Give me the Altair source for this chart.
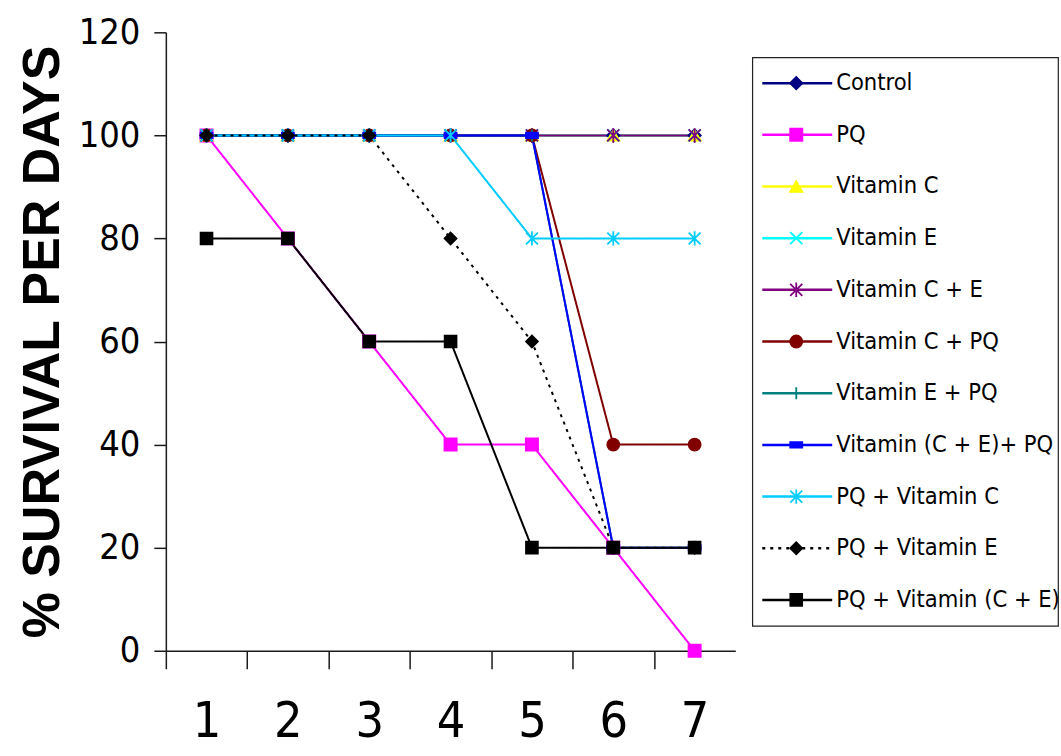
import altair as alt
import pandas as pd

# ---------------- data ----------------
days = [1, 2, 3, 4, 5, 6, 7]
series_names = [
    "Control",
    "PQ",
    "Vitamin C",
    "Vitamin E",
    "Vitamin C + E",
    "Vitamin C +  PQ",
    "Vitamin E + PQ",
    "Vitamin (C + E)+ PQ",
    "PQ + Vitamin C",
    "PQ + Vitamin E",
    "PQ + Vitamin (C + E)",
]
control = [100, 100, 100, 100, 100, 100, 100]
pq = [100, 80, 60, 40, 40, 20, 0]
vit_c = [100, 100, 100, 100, 100, 100, 100]
vit_e = [100, 100, 100, 100, 100, 100, 100]
vit_ce = [100, 100, 100, 100, 100, 100, 100]
vit_c_pq = [100, 100, 100, 100, 100, 40, 40]
vit_e_pq = [100, 100, 100, 100, 100, 20, 20]
vit_cepq = [100, 100, 100, 100, 100, 20, 20]
pq_vit_c = [100, 100, 100, 100, 80, 80, 80]
pq_vit_e = [100, 100, 100, 80, 60, 20, 20]
pq_vit_ce = [80, 80, 60, 60, 20, 20, 20]
series_values = [control, pq, vit_c, vit_e, vit_ce, vit_c_pq, vit_e_pq,
                 vit_cepq, pq_vit_c, pq_vit_e, pq_vit_ce]
y_ticks = [0, 20, 40, 60, 80, 100, 120]
x_tick_values = [1, 2, 3, 4, 5, 6, 7, 8]

# ---------------- styles ----------------
NARROW = "'Liberation Sans Narrow', 'Arial Narrow', 'DejaVu Sans Condensed', 'Roboto Condensed', 'Liberation Sans', sans-serif"
colors = ["#000080", "#FF00FF", "#FFFF00", "#00FFFF", "#800080", "#800000",
          "#008080", "#0000FF", "#00CCFF", "#000000", "#000000"]
X_PATH = "M-1,-1L1,1M-1,1L1,-1"
AST_PATH = "M-1,-1L1,1M-1,1L1,-1M0,-1.2L0,1.2"
PLUS_PATH = "M-1,0L1,0M0,-1L0,1"
DASH_PATH = "M-1,-0.45L1,-0.45L1,0.45L-1,0.45Z"
shapes = ["diamond", "square", "triangle-up", X_PATH, AST_PATH, "circle",
          PLUS_PATH, DASH_PATH, AST_PATH, "diamond", "square"]
dashes = [[1, 0]] * 9 + [[3, 5], [1, 0]]
widths = [2, 2, 2, 2, 2.5, 2, 2, 2.5, 3, 3, 2]
sizes = [150, 140, 120, 100, 140, 120, 120, 60, 150, 160, 160]

rows = []
for i, name in enumerate(series_names):
    for d, v in zip(days, series_values[i]):
        rows.append({"series": name, "day": d, "value": v, "idx": i})
df = pd.DataFrame(rows)

PLOT_W = 570
PLOT_H = 619
half_band = PLOT_W / 7 / 2

stroke_enc = alt.Stroke("series:N", scale=alt.Scale(domain=series_names, range=colors), legend=None)
fill_enc = alt.Fill("series:N", scale=alt.Scale(domain=series_names, range=colors), legend=None)
dash_enc = alt.StrokeDash("series:N", scale=alt.Scale(domain=series_names, range=dashes), legend=None)
width_enc = alt.StrokeWidth("series:N", scale=alt.Scale(domain=series_names, range=widths), legend=None)
shape_enc = alt.Shape("series:N", scale=alt.Scale(domain=series_names, range=shapes), legend=None)
size_enc = alt.Size("series:N", scale=alt.Scale(domain=series_names, range=sizes), legend=None)

x_enc = alt.X(
    "day:Q",
    scale=alt.Scale(domain=[0.5, 7.5], nice=False, zero=False),
    axis=alt.Axis(
        values=x_tick_values, title=None, tickSize=18, tickOffset=-half_band,
        labelOffset=half_band, labelExpr="datum.value > 7 ? '' : datum.label",
        labelFont=NARROW, labelFontSize=50, labelPadding=28,
        grid=False, labelFlush=False, labelOverlap=False,
    ),
)
y_enc = alt.Y(
    "value:Q",
    scale=alt.Scale(domain=[0, 120], nice=False),
    axis=alt.Axis(
        values=y_ticks, title="% SURVIVAL PER DAYS", tickSize=12, labelPadding=14,
        labelFont=NARROW, labelFontSize=36,
        titleFont="Liberation Sans", titleFontWeight="bold", titleFontSize=52,
        titlePadding=9, grid=False, labelFlush=False,
    ),
)

base = alt.Chart(df)
lines = base.mark_line().encode(
    x=x_enc, y=y_enc, stroke=stroke_enc, strokeDash=dash_enc, strokeWidth=width_enc,
    order=alt.Order("day:Q"),
)
points = base.mark_point(filled=True, strokeWidth=1.8, opacity=1).encode(
    x=x_enc, y=y_enc, shape=shape_enc, fill=fill_enc, stroke=stroke_enc, size=size_enc,
)
main = alt.layer(lines, points).properties(width=PLOT_W, height=PLOT_H)

# ---------------- legend ----------------
leg_df = pd.DataFrame({"series": series_names})
ly = alt.Y("series:N", sort=series_names,
           scale=alt.Scale(type="point", padding=0.5, domain=series_names), axis=None)
leg_base = alt.Chart(leg_df)
leg_rule = leg_base.mark_rule(strokeWidth=2.5).encode(
    x=alt.value(10), x2=alt.value(80), y=ly, stroke=stroke_enc, strokeDash=dash_enc,
)
leg_pt = leg_base.mark_point(filled=True, strokeWidth=1.8, opacity=1).encode(
    x=alt.value(44), y=ly, shape=shape_enc, fill=fill_enc, stroke=stroke_enc, size=size_enc,
)
leg_txt = leg_base.mark_text(
    align="left", baseline="middle", font=NARROW, fontSize=23.5, color="black",
).encode(x=alt.value(84), y=ly, text="series:N")
legend = alt.layer(leg_rule, leg_pt, leg_txt).properties(
    width=306, height=569, view=alt.ViewBackground(stroke="#222222", strokeWidth=1.2),
)

chart = alt.hconcat(main, legend, spacing=17, center=True, bounds="flush").properties(
    padding={"left": 16, "top": 14, "right": 0, "bottom": 6},
).configure_view(stroke=None).configure_axis(
    domainColor="#1a1a1a", tickColor="#1a1a1a", domainWidth=1.5, tickWidth=1.5,
    labelColor="black", titleColor="black",
)

chart.save("out.html", embed_options={"renderer": "svg", "actions": False})
